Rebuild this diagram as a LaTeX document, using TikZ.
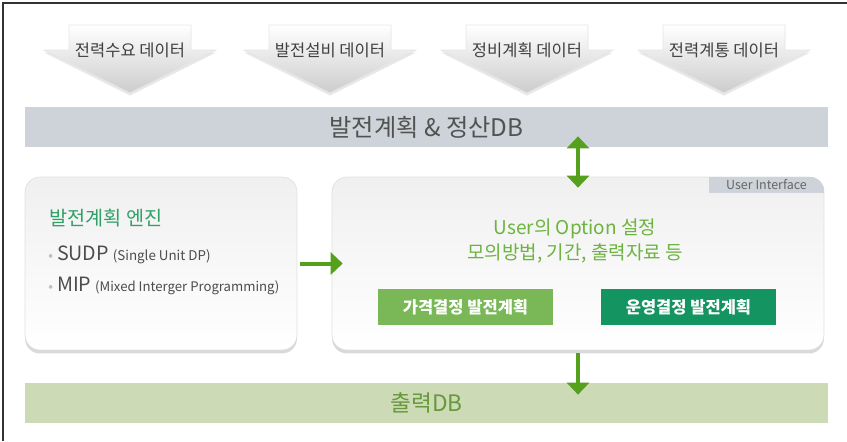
\documentclass[tikz,border=0pt]{standalone}
\usepackage{fontspec}
\setmainfont{Noto Sans CJK KR}
\usetikzlibrary{arrows.meta, positioning, shadows}
\definecolor{dbgray}{HTML}{CDD3D8}
\definecolor{dbgreen}{HTML}{CDDAB6}
\definecolor{linkgreen}{HTML}{55A01C}
\definecolor{titlegreen}{HTML}{6CB33F}
\definecolor{enggreen}{HTML}{2FA068}
\definecolor{btnlight}{HTML}{7AB857}
\definecolor{btndark}{HTML}{149461}
\definecolor{outtext}{HTML}{66993A}

\begin{document}
\begin{tikzpicture}[x=0.02cm, y=-0.02cm, >={Triangle[width=0.44cm,length=0.24cm]},
    datain/.style={top color=white, bottom color=black!20, draw=black!10,
      drop shadow={shadow xshift=0pt, shadow yshift=-0.05cm, opacity=0.18}},
    datalabel/.style={font=\fontsize{9.4}{11}\selectfont, text=black!75},
    dbbar/.style={minimum width=16.06cm, minimum height=0.8cm, inner sep=0pt},
    panel/.style={draw=black!12, rounded corners=0.3cm, top color=black!6, bottom color=white,
      minimum width=#1, minimum height=3.46cm,
      drop shadow={shadow xshift=0pt, shadow yshift=-0.07cm, opacity=0.3}},
    btn/.style={minimum width=3.5cm, minimum height=0.72cm, inner sep=0pt, text=white,
      font=\bfseries\fontsize{9.4}{11}\selectfont},
    bullet/.style={anchor=west, inner sep=0pt, text=black!70},
    link/.style={draw=linkgreen, line width=0.08cm}]
    \useasboundingbox (0,0) rectangle (847,441);
    % frame
    \draw[black!80, line width=0.05cm] (3,441) -- (3,3) -- (847,3);
    % input data
    \foreach \x/\txt [count=\i] in {130/전력수요 데이터, 330/발전설비 데이터, 527/정비계획 데이터, 724/전력계통 데이터} {
      \path[datain] (\x-61,25) -- (\x+61,25) -- (\x+61,50) -- (\x+86,50) -- (\x,93)
        -- (\x-86,50) -- (\x-61,50) -- cycle;
      \node[datalabel] (data\i) at (\x,50) {\txt};
    }
    % databases
    \node[dbbar, fill=dbgray, text=black!68, font=\fontsize{13.8}{16}\selectfont] (db) at (426.5,127) {발전계획 \& 정산DB};
    \node[dbbar, fill=dbgreen, text=outtext, font=\fontsize{12.9}{15}\selectfont] (outdb) at (426.5,403) {출력DB};
    % engine
    \node[panel=5.44cm] (engine) at (161,263.5) {};
    \node[anchor=west, inner sep=0pt, text=enggreen, font=\fontsize{11.2}{13}\selectfont] (engtitle) at (49,218) {발전계획 엔진};
    \node[bullet] (sudp) at (48,255) {{\color{black!25}\fontsize{8}{9}\selectfont •} {\fontsize{11.2}{13}\selectfont SUDP} {\fontsize{7.6}{10}\selectfont (Single Unit DP)}};
    \node[bullet] (mip) at (48,286) {{\color{black!25}\fontsize{8}{9}\selectfont •} {\fontsize{11.2}{13}\selectfont MIP} {\fontsize{7.5}{10}\selectfont (Mixed Interger Programming)}};
    % user interface
    \node[panel=9.84cm] (ui) at (578,263.5) {};
    \begin{scope}
      \clip[rounded corners=0.3cm] (ui.south west) rectangle (ui.north east);
      \fill[dbgray] (ui.north east) rectangle (709,193);
    \end{scope}
    \node[text=black!60, font=\fontsize{7.1}{8}\selectfont] (uitab) at (766.5,185) {User Interface};
    \node[align=center, text=titlegreen, font=\fontsize{10.8}{14.2}\selectfont] (option) at (575,240.5) {User의 Option 설정\\모의방법, 기간, 출력자료 등};
    \node[btn, fill=btnlight] (price) at (465.5,307) {가격결정 발전계획};
    \node[btn, fill=btndark] (oper) at (688.5,307) {운영결정 발전계획};
    % connectors
    \draw[link, <->, shorten <=-0.22cm, shorten >=-0.22cm] (ui.north |- db.south) -- (ui.north);
    \draw[link, ->, shorten <=0.06cm, shorten >=-0.22cm] (engine.east) -- (ui.west);
    \draw[link, ->, shorten <=0.06cm, shorten >=-0.24cm] (ui.south) -- (ui.south |- outdb.north);
\end{tikzpicture}
\end{document}
